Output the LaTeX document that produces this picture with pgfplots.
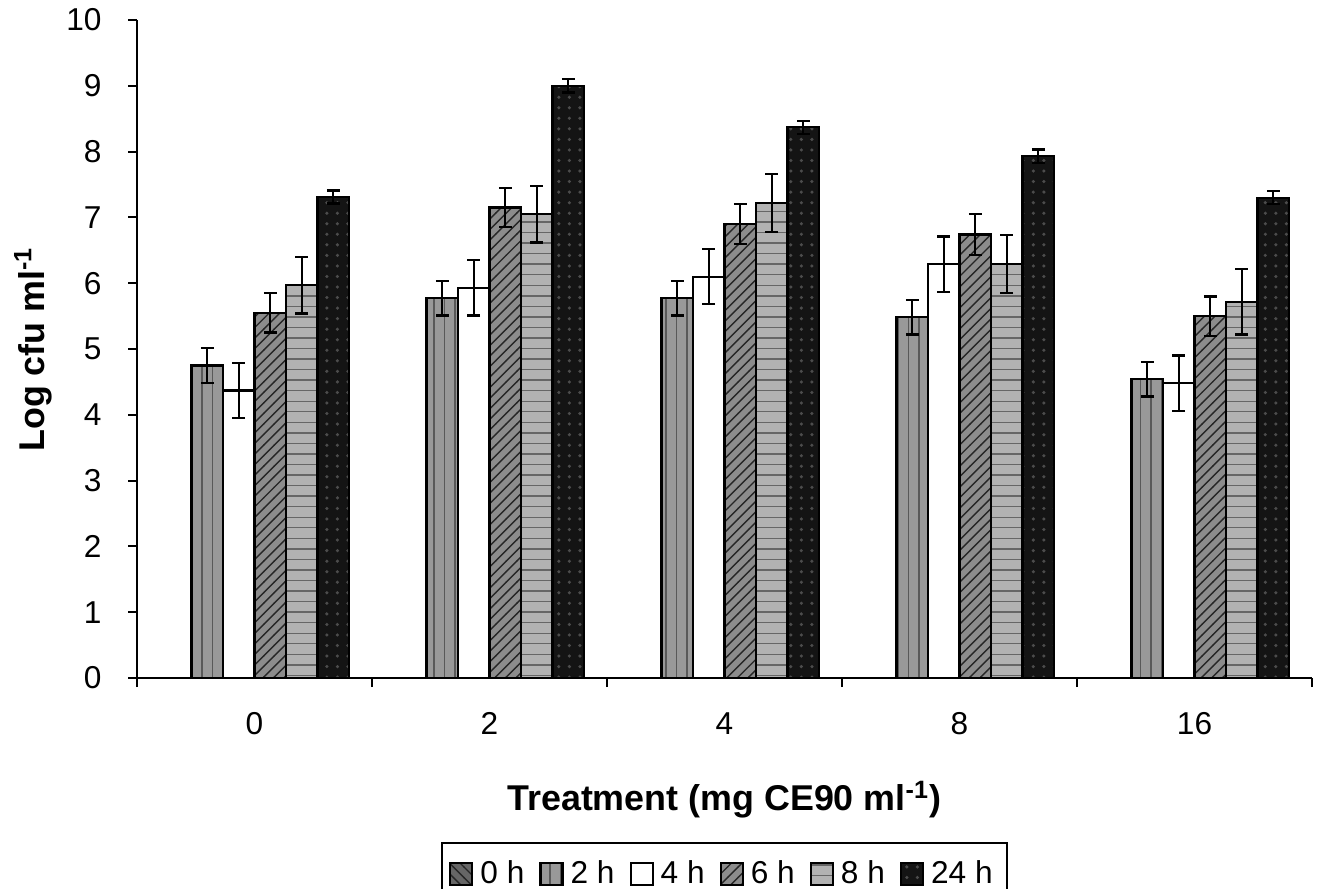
\documentclass[border=0pt]{standalone}
\usepackage{pgfplots}
\pgfplotsset{compat=1.18}
\usepackage{fontspec}
\setmainfont{Liberation Sans}
\usetikzlibrary{patterns}

\begin{document}
\begin{tikzpicture}
\pgfplotsset{
  errstyle/.style={error bars/.cd, y dir=both, y explicit,
    error bar style={line width=0.65pt, black},
    error mark options={rotate=90, mark size=1.8pt, line width=0.65pt, black}},
  sq legend/.style={legend image code/.code={
    \draw[##1, draw=black, line width=0.6pt] (0cm,-0.11cm) rectangle (0.22cm,0.11cm);}},
}
\begin{axis}[%
name=ax,%
width=11.75cm, height=6.58cm,%
scale only axis,%
ybar=0pt, bar width=0.134,%
xmin=-0.5, xmax=4.5,%
ymin=0, ymax=10,%
ytick={0,1,...,10},%
xtick={-0.5,0.5,1.5,2.5,3.5,4.5},%
xticklabels={},%
extra x ticks={0,1,2,3,4},%
extra x tick labels={0,2,4,8,16},%
extra x tick style={major tick length=0pt},%
axis x line*=bottom, axis y line*=left,%
axis line style={line width=0.6pt, -},%
tick style={line width=0.6pt, black},%
tick align=outside, major tick length=0.09cm,%
tick label style={font=\fontsize{9}{11}\selectfont},%
yticklabel style={xshift=-0.14cm},%
xticklabel style={yshift=-0.22cm},%
/pgf/number format/assume math mode=true,%
xlabel={\textbf{Treatment (mg CE90 ml\textsuperscript{-1})}},%
ylabel={\textbf{Log cfu ml\textsuperscript{-1}}},%
label style={font=\fontsize{10.2}{12}\selectfont},%
xlabel style={at={(axis description cs:0.5,-0.185)}, anchor=center},%
ylabel style={at={(axis description cs:-0.0885,0.5)}, anchor=center},%
legend columns=-1,%
legend style={at={(0.5,-0.249)}, anchor=north, draw=black, line width=0.5pt,%
  font=\fontsize{9}{11}\selectfont, inner xsep=2pt, inner ysep=3pt,%
  nodes={inner xsep=2pt, inner ysep=2pt},%
  /tikz/every even column/.append style={column sep=0.08cm}},%
]
\addlegendimage{sq legend, fill=black!60, postaction={pattern=north west lines, pattern color=black!85}}
\addlegendentry{0 h}

\addplot [sq legend, draw=black, line width=0.6pt, fill=black!40,
  postaction={pattern=vertical lines, pattern color=black!65},
  bar shift=-0.201, errstyle] coordinates {
  (0,4.75) +- (0,0.27)
  (1,5.77) +- (0,0.26)
  (2,5.77) +- (0,0.26)
  (3,5.48) +- (0,0.26)
  (4,4.54) +- (0,0.26)
};
\addlegendentry{2 h}

\addplot [sq legend, draw=black, line width=0.6pt, fill=white,
  bar shift=-0.067, errstyle] coordinates {
  (0,4.37) +- (0,0.42)
  (1,5.93) +- (0,0.42)
  (2,6.10) +- (0,0.42)
  (3,6.29) +- (0,0.42)
  (4,4.48) +- (0,0.42)
};
\addlegendentry{4 h}

\addplot [sq legend, draw=black, line width=0.6pt, fill=black!45,
  postaction={pattern=north east lines, pattern color=black!85},
  bar shift=0.067, errstyle] coordinates {
  (0,5.55) +- (0,0.30)
  (1,7.15) +- (0,0.30)
  (2,6.90) +- (0,0.30)
  (3,6.74) +- (0,0.31)
  (4,5.50) +- (0,0.30)
};
\addlegendentry{6 h}

\addplot [sq legend, draw=black, line width=0.6pt, fill=black!30,
  postaction={pattern=horizontal lines, pattern color=black!60},
  bar shift=0.201, errstyle] coordinates {
  (0,5.97) +- (0,0.43)
  (1,7.05) +- (0,0.43)
  (2,7.22) +- (0,0.44)
  (3,6.29) +- (0,0.44)
  (4,5.72) +- (0,0.50)
};
\addlegendentry{8 h}

\addplot [sq legend, draw=black, line width=0.6pt, fill=black!92,
  postaction={pattern=dots, pattern color=black!70},
  bar shift=0.335, errstyle] coordinates {
  (0,7.31) +- (0,0.10)
  (1,9.00) +- (0,0.10)
  (2,8.37) +- (0,0.10)
  (3,7.93) +- (0,0.10)
  (4,7.30) +- (0,0.10)
};
\addlegendentry{24 h}
\end{axis}
\pgfresetboundingbox
\path (ax.south west) ++(-1.37cm,-2.10cm) coordinate (bl);
\path (ax.north east) ++(0.07cm,0.20cm) coordinate (tr);
\path (bl) rectangle (tr);
\end{tikzpicture}
\end{document}
